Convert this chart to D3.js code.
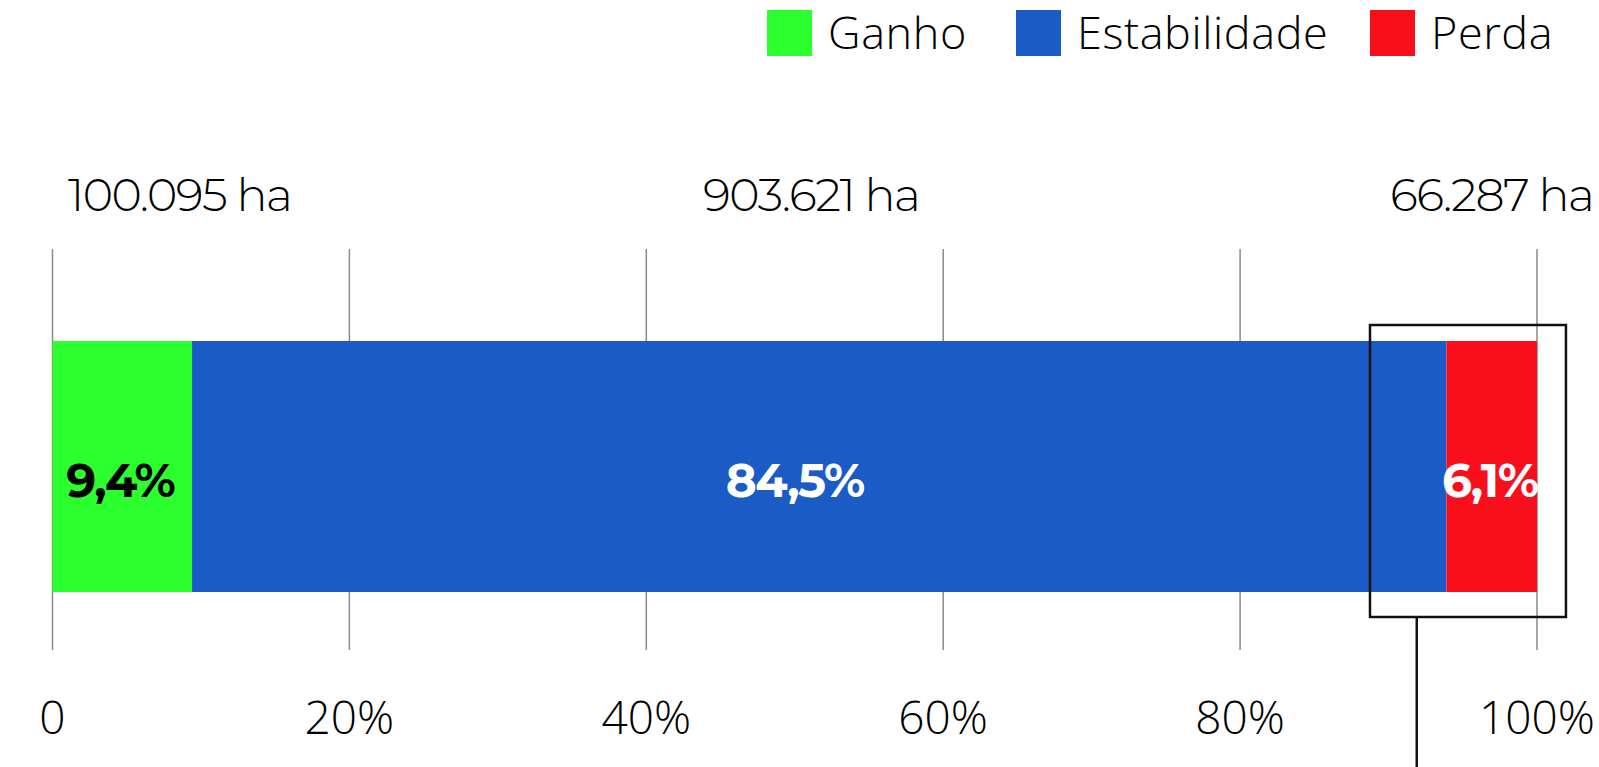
<!DOCTYPE html>
<html>
  <head>
    <meta charset="utf-8" />
    <script src="https://cdn.jsdelivr.net/npm/d3@7"></script>
    <style>
      body { margin: 0; background: #fff; }
      .serif-free { font-family: Montserrat, Lato, "Noto Sans", sans-serif; }
      .seg { font-family: "Open Sans", "Noto Sans", sans-serif; font-weight: 300; }
    </style>
  </head>
  <body>
    <script>
      // data
      const categories = ["Ganho", "Estabilidade", "Perda"];
      const shares = [9.4, 84.5, 6.1];
      const shareLabels = ["9,4%", "84,5%", "6,1%"];
      const areaLabels = ["100.095 ha", "903.621 ha", "66.287 ha"];
      const tickValues = [0, 20, 40, 60, 80, 100];
      const tickLabels = ["0", "20%", "40%", "60%", "80%", "100%"];

      const W = 1599, H = 767;
      const color = d3.scaleOrdinal().domain(categories).range(["#2bff2d", "#1b5bc6", "#f90f1b"]);
      const textColor = d3.scaleOrdinal().domain(categories).range(["#000", "#fff", "#fff"]);

      const x = d3.scaleLinear().domain([0, 100]).range([52.5, 1537]);
      const barTop = 341, barBottom = 592;

      const svg = d3.select("body").append("svg").attr("width", W).attr("height", H);

      // gridlines
      svg.append("g").selectAll("line")
        .data(tickValues).enter().append("line")
        .attr("x1", d => x(d)).attr("x2", d => x(d))
        .attr("y1", 249).attr("y2", 650)
        .attr("stroke", "#8a8a8a").attr("stroke-width", 1.5);

      // tick labels
      svg.append("g").selectAll("text")
        .data(tickValues).enter().append("text")
        .attr("class", "seg")
        .attr("x", d => x(d)).attr("y", 734)
        .attr("text-anchor", "middle")
        .attr("font-size", 46)
        .attr("fill", "#000")
        .text((d, i) => tickLabels[i]);

      // stacked segments
      let acc = 0;
      const segs = shares.map((v, i) => {
        const s = { cat: categories[i], start: acc, end: acc + v, i: i };
        acc += v;
        return s;
      });

      svg.append("g").selectAll("rect")
        .data(segs).enter().append("rect")
        .attr("x", d => x(d.start))
        .attr("width", d => x(d.end) - x(d.start))
        .attr("y", barTop).attr("height", barBottom - barTop)
        .attr("fill", d => color(d.cat));

      // percentage labels (middle one sits at the centre of the whole bar)
      svg.append("g").selectAll("text")
        .data(segs).enter().append("text")
        .attr("class", "serif-free")
        .attr("x", d => d.i === 1 ? x(50) : x((d.start + d.end) / 2) - 2)
        .attr("y", 497)
        .attr("text-anchor", "middle")
        .attr("font-size", 47)
        .attr("font-weight", 700)
        .attr("letter-spacing", -1.5)
        .attr("fill", d => textColor(d.cat))
        .text(d => shareLabels[d.i]);

      // hectare labels above
      const ha = svg.append("g").selectAll("text")
        .data(segs).enter().append("text")
        .attr("class", "serif-free")
        .attr("y", 211)
        .attr("text-anchor", "middle")
        .attr("font-size", 46)
        .attr("font-weight", 300)
        .attr("letter-spacing", -1.5)
        .attr("fill", "#000")
        .text(d => areaLabels[d.i]);
      ha.attr("x", function (d) {
        const half = this.getComputedTextLength() / 2;
        let cx = x((d.start + d.end) / 2) - (d.i === 1 ? 8 : 0);
        if (cx - half < 68) cx = 68 + half;
        if (cx + half > 1594) cx = 1594 - half;
        return cx;
      });

      // highlight box around the loss segment
      svg.append("rect")
        .attr("x", x(88.75)).attr("y", 325)
        .attr("width", x(101.95) - x(88.75)).attr("height", 292)
        .attr("fill", "none").attr("stroke", "#111").attr("stroke-width", 2.5);
      svg.append("line")
        .attr("x1", x(91.9)).attr("x2", x(91.9))
        .attr("y1", 617).attr("y2", H)
        .attr("stroke", "#111").attr("stroke-width", 2.5);

      // legend
      const legendX = [767, 1016, 1370];
      const lg = svg.append("g").selectAll("g")
        .data(categories).enter().append("g")
        .attr("transform", (d, i) => "translate(" + legendX[i] + ",10)");
      lg.append("rect").attr("width", 45).attr("height", 46).attr("fill", d => color(d));
      lg.append("text")
        .attr("class", "seg")
        .attr("x", 61).attr("y", 39)
        .attr("font-size", 45)
        .attr("letter-spacing", 0.6)
        .attr("fill", "#000")
        .text(d => d);
    </script>
  </body>
</html>
